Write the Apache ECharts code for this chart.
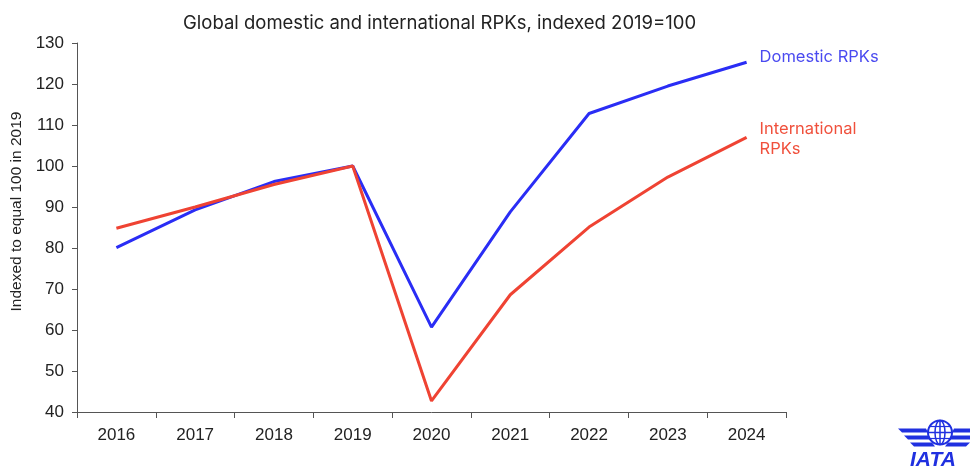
<!DOCTYPE html>
<html><head><meta charset="utf-8">
<script src="https://cdn.jsdelivr.net/npm/echarts@6/dist/echarts.min.js"></script>
<style>html,body{margin:0;padding:0;background:#fff}#c{width:970px;height:472px}</style>
</head><body><div id="c"></div>
<script>
const years = ['2016','2017','2018','2019','2020','2021','2022','2023','2024'];
const domestic = [80.1, 89.3, 96.2, 100, 60.7, 88.8, 112.8, 119.5, 125.3];
const international = [84.8, 90.0, 95.5, 100, 42.7, 68.6, 85.1, 97.3, 107.0];
const chart = echarts.init(document.getElementById('c'));
const blue = '#2a2df5', red = '#ef4333';
chart.setOption({
  animation: false,
  title: { text: 'Global domestic and international RPKs, indexed 2019=100', left: 178, top: 9,
    textStyle: { fontFamily: 'Inter', fontWeight: 'normal', fontSize: 18.5, color: '#222' } },
  grid: { left: 77, right: 184, top: 43, bottom: 60, outerBoundsMode: 'none', containLabel: false },
  xAxis: { type: 'category', data: years, boundaryGap: true,
    axisLine: { lineStyle: { color: '#555' } },
    axisTick: { show: true, length: 6, lineStyle: { color: '#555' } },
    axisLabel: { color: '#222', fontSize: 17, fontFamily: 'Liberation Sans', margin: 15 } },
  yAxis: { type: 'value', min: 40, max: 130, interval: 10,
    name: 'Indexed to equal 100 in 2019', nameLocation: 'middle', nameGap: 52, nameRotate: 90,
    nameTextStyle: { color: '#222', fontSize: 15.5, fontFamily: 'Liberation Sans', padding: [0, 0, 0, 32] },
    axisLine: { show: true, lineStyle: { color: '#555' } },
    axisTick: { show: true, length: 5, lineStyle: { color: '#555' } },
    splitLine: { show: false },
    axisLabel: { color: '#222', fontSize: 17, fontFamily: 'Liberation Sans', margin: 13 } },
  series: [
    { name: 'Domestic RPKs', type: 'line', data: domestic, symbol: 'none', lineStyle: { color: blue, width: 3 },
      endLabel: { show: true, formatter: 'Domestic RPKs', color: '#4a4af0', fontSize: 16.5, fontFamily: 'Inter', distance: 13, offset: [0, -5] } },
    { name: 'International RPKs', type: 'line', data: international, symbol: 'none', lineStyle: { color: red, width: 3 },
      endLabel: { show: true, formatter: 'International\nRPKs', color: '#f0503c', fontSize: 16.5, fontFamily: 'Inter', lineHeight: 20, distance: 13, offset: [0, 2] } }
  ],
  graphic: [
    { type: 'group', left: 898, top: 418, children: [
      { type: 'circle', shape: { cx: 42, cy: 14, r: 12 }, style: { fill: '#fff', stroke: '#2030e0', lineWidth: 2 } },
      { type: 'ellipse', shape: { cx: 42, cy: 14, rx: 5, ry: 12 }, style: { fill: 'none', stroke: '#2030e0', lineWidth: 1.5 } },
      { type: 'line', shape: { x1: 42, y1: 2, x2: 42, y2: 26 }, style: { stroke: '#2030e0', lineWidth: 1.5 } },
      { type: 'line', shape: { x1: 30, y1: 14, x2: 54, y2: 14 }, style: { stroke: '#2030e0', lineWidth: 1.5 } },
      { type: 'line', shape: { x1: 32, y1: 8, x2: 52, y2: 8 }, style: { stroke: '#2030e0', lineWidth: 1.2 } },
      { type: 'line', shape: { x1: 32, y1: 20, x2: 52, y2: 20 }, style: { stroke: '#2030e0', lineWidth: 1.2 } },
      { type: 'polygon', shape: { points: [[0,10],[28,10],[30,14],[4,14]] }, style: { fill: '#2030e0' } },
      { type: 'polygon', shape: { points: [[6,17],[31,17],[33,21],[10,21]] }, style: { fill: '#2030e0' } },
      { type: 'polygon', shape: { points: [[12,24],[34,24],[37,28],[16,28]] }, style: { fill: '#2030e0' } },
      { type: 'polygon', shape: { points: [[56,10],[84,10],[80,14],[54,14]] }, style: { fill: '#2030e0' } },
      { type: 'polygon', shape: { points: [[53,17],[78,17],[74,21],[51,21]] }, style: { fill: '#2030e0' } },
      { type: 'polygon', shape: { points: [[50,24],[72,24],[68,28],[47,28]] }, style: { fill: '#2030e0' } },
      { type: 'text', x: 12, y: 31, style: { text: 'IATA', fill: '#2030e0', font: 'italic bold 21px "Liberation Sans"' } }
    ] }
  ]
});
</script></body></html>
